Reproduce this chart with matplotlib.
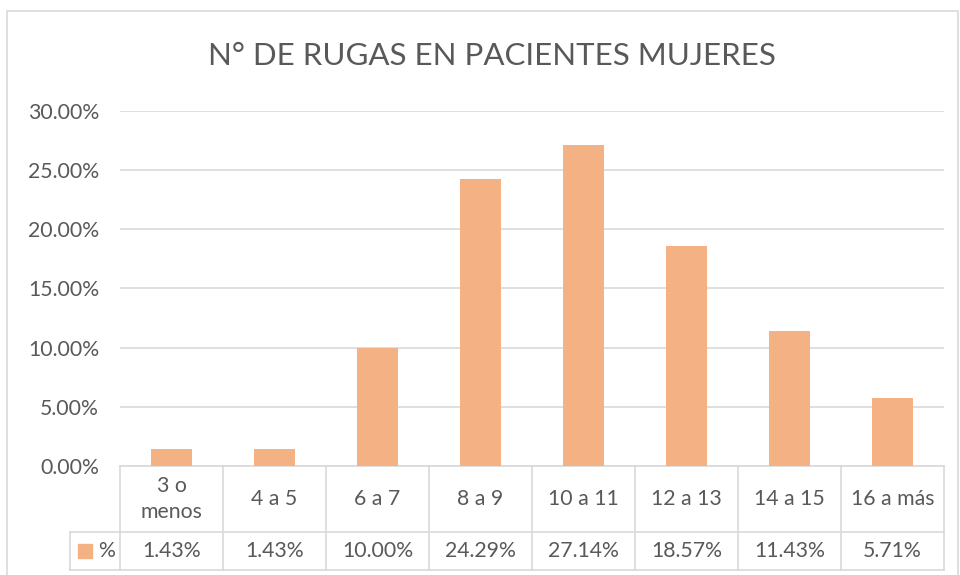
import matplotlib
matplotlib.use("Agg")
import matplotlib.pyplot as plt
from matplotlib.patches import Rectangle
from matplotlib.lines import Line2D
from matplotlib.ticker import FuncFormatter, MultipleLocator

categories = ["3 o\nmenos", "4 a 5", "6 a 7", "8 a 9", "10 a 11", "12 a 13", "14 a 15", "16 a más"]
values = [0.0143, 0.0143, 0.1000, 0.2429, 0.2714, 0.1857, 0.1143, 0.0571]
value_labels = ["1.43%", "1.43%", "10.00%", "24.29%", "27.14%", "18.57%", "11.43%", "5.71%"]
series_name = "%"
title = "N° DE RUGAS EN PACIENTES MUJERES"

BAR = "#F4B183"
TXT = "#595959"
GRID = "#D9D9D9"
FONT = "Lato"
plt.rcParams["font.family"] = [FONT, "DejaVu Sans"]

W, H = 960, 575
fig = plt.figure(figsize=(W / 100, H / 100), dpi=100)

def fx(px):
    return px / W

def fy(py):
    return 1 - py / H

# outer chart border
fig.patches.append(Rectangle((fx(7), fy(580)), fx(951), (580 - 11) / H, transform=fig.transFigure,
                             fill=False, edgecolor=GRID, linewidth=1.2))

ax_l, ax_r, ax_t, ax_b = 120, 944, 111, 466
ax = fig.add_axes([fx(ax_l), fy(ax_b), (ax_r - ax_l) / W, (ax_b - ax_t) / H])

x = list(range(len(categories)))
ax.bar(x, values, width=0.4, color=BAR, zorder=3)
ax.set_xlim(-0.5, len(categories) - 0.5)
ax.set_ylim(0, 0.30)
ax.yaxis.set_major_locator(MultipleLocator(0.05))
ax.yaxis.set_major_formatter(FuncFormatter(lambda v, p: f"{v*100:.2f}%"))
ax.grid(axis="y", color=GRID, linewidth=1.2, zorder=0)
for s in ax.spines.values():
    s.set_visible(False)
ax.tick_params(axis="y", length=0, pad=15, labelsize=15.3, labelcolor=TXT)
ax.set_xticks([])

fig.text(fx(492), fy(56), title, ha="center", va="center", fontsize=22.5, color=TXT)

# data table below the axes
tr = ax.get_xaxis_transform()
h_px = ax_b - ax_t
r0 = 0
r1 = -(532 - ax_b) / h_px
r2 = -(570 - ax_b) / h_px
n = len(categories)
leg_left = -0.5 - 50 / 103
lw = 1.2
# horizontal lines
ax.add_line(Line2D([-0.5, n - 0.5], [r0, r0], transform=tr, color=GRID, lw=lw, clip_on=False))
ax.add_line(Line2D([leg_left, n - 0.5], [r1, r1], transform=tr, color=GRID, lw=lw, clip_on=False))
ax.add_line(Line2D([leg_left, n - 0.5], [r2, r2], transform=tr, color=GRID, lw=lw, clip_on=False))
# vertical lines
for i in range(n + 1):
    xv = i - 0.5
    ax.add_line(Line2D([xv, xv], [r0, r2], transform=tr, color=GRID, lw=lw, clip_on=False))
ax.add_line(Line2D([leg_left, leg_left], [r1, r2], transform=tr, color=GRID, lw=lw, clip_on=False))

for i, (c, v) in enumerate(zip(categories, value_labels)):
    ax.text(i, (r0 + r1) / 2, c, transform=tr, ha="center", va="center", fontsize=15.3,
            color=TXT, linespacing=1.4)
    ax.text(i, (r1 + r2) / 2, v, transform=tr, ha="center", va="center", fontsize=15.3, color=TXT)

# legend key in table
sq_w = 14 / 103
ax.add_patch(Rectangle((leg_left + 8 / 103, (r1 + r2) / 2 - 7 / h_px), sq_w, 14 / h_px,
                       transform=tr, color=BAR, clip_on=False))
ax.text(leg_left + 28 / 103, (r1 + r2) / 2, series_name, transform=tr, ha="left", va="center",
        fontsize=15.3, color=TXT)

fig.savefig("out.png", dpi=100)
